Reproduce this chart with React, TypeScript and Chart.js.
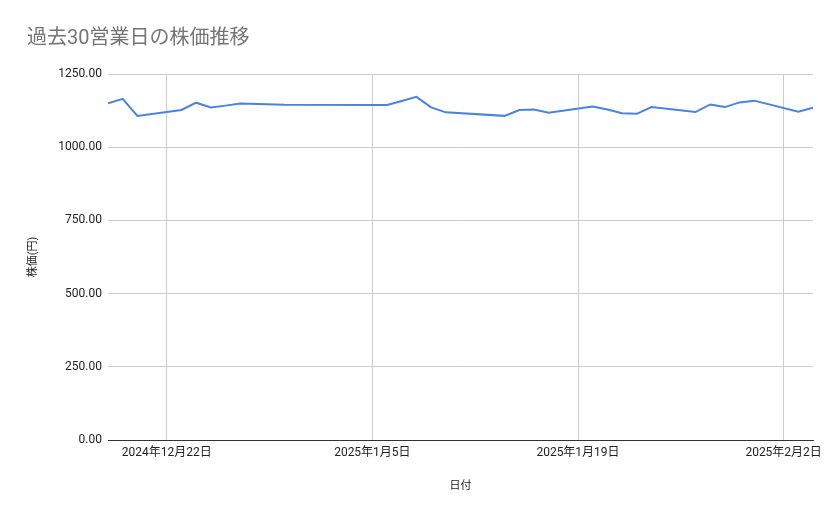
import { useEffect, useRef } from 'react';
import { Chart, registerables } from 'chart.js';

Chart.register(...registerables);

// trading days (last 30 business days)
const dates: string[] = [
  '2024-12-18', '2024-12-19', '2024-12-20', '2024-12-23', '2024-12-24',
  '2024-12-25', '2024-12-26', '2024-12-27', '2024-12-30', '2025-01-06',
  '2025-01-07', '2025-01-08', '2025-01-09', '2025-01-10', '2025-01-14',
  '2025-01-15', '2025-01-16', '2025-01-17', '2025-01-20', '2025-01-21',
  '2025-01-22', '2025-01-23', '2025-01-24', '2025-01-27', '2025-01-28',
  '2025-01-29', '2025-01-30', '2025-01-31', '2025-02-03', '2025-02-04',
];

const prices: number[] = [
  1150, 1165, 1107, 1127, 1152,
  1136, 1142, 1149, 1145, 1144,
  1158, 1172, 1136, 1119, 1107,
  1127, 1129, 1118, 1139, 1129,
  1116, 1114, 1137, 1120, 1146,
  1137, 1153, 1159, 1121, 1135,
];

const xTickDates: string[] = ['2024-12-22', '2025-01-05', '2025-01-19', '2025-02-02'];
const axisStart = '2024-12-18';
const axisEnd = '2025-02-04';

const yTicks: number[] = [0, 250, 500, 750, 1000, 1250];

const BASE = Date.UTC(2024, 11, 22);
const DAY = 86400000;

const toDay = (s: string) => {
  const [y, m, d] = s.split('-').map(Number);
  return (Date.UTC(y, m - 1, d) - BASE) / DAY;
};

const fromDay = (n: number) => {
  const dt = new Date(BASE + n * DAY);
  return `${dt.getUTCFullYear()}年${dt.getUTCMonth() + 1}月${dt.getUTCDate()}日`;
};

const FONT = 'Roboto, "Noto Sans CJK JP", sans-serif';

const App = () => {
  const canvasRef = useRef<HTMLCanvasElement>(null);

  useEffect(() => {
    if (!canvasRef.current) return;

    const chart = new Chart(canvasRef.current, {
      type: 'line',
      data: {
        datasets: [
          {
            label: '株価',
            data: dates.map((d, i) => ({ x: toDay(d), y: prices[i] })),
            borderColor: '#4a82e0',
            borderWidth: 2,
            pointRadius: 0,
            tension: 0,
            fill: false,
          },
        ],
      },
      options: {
        animation: false,
        responsive: true,
        maintainAspectRatio: false,
        layout: { padding: { left: 27, right: 26, top: 0, bottom: 0 } },
        plugins: {
          legend: { display: false },
          tooltip: { enabled: false },
          title: {
            display: true,
            text: '過去30営業日の株価推移',
            align: 'start',
            color: '#757575',
            font: { family: FONT, size: 20, weight: 'normal' },
            padding: { top: 26.5, bottom: 23.5 },
          },
        },
        scales: {
          x: {
            type: 'linear',
            min: toDay(axisStart),
            max: toDay(axisEnd),
            afterBuildTicks: (scale: any) => {
              scale.ticks = xTickDates.map((d) => ({ value: toDay(d) }));
            },
            afterFit: (scale: any) => {
              scale.height = 79;
            },
            grid: { color: '#cccccc', drawTicks: false },
            border: { display: true, color: '#333333', width: 1 },
            ticks: {
              padding: 6,
              color: '#222222',
              maxRotation: 0,
              autoSkip: false,
              font: { family: FONT, size: 12 },
              callback: (v: any) => fromDay(Number(v)),
            },
            title: {
              display: true,
              text: '日付',
              color: '#222222',
              font: { family: FONT, size: 11 },
              padding: { top: 0, bottom: 26.4 },
            },
          },
          y: {
            min: 0,
            max: 1250,
            afterBuildTicks: (scale: any) => {
              scale.ticks = yTicks.map((v) => ({ value: v }));
            },
            afterFit: (scale: any) => {
              scale.width = 81;
            },
            grid: { color: '#cccccc', drawTicks: false },
            border: { display: false },
            ticks: {
              padding: 6,
              color: '#222222',
              font: { family: FONT, size: 12 },
              callback: (v: any) => Number(v).toFixed(2),
            },
            title: {
              display: true,
              text: '株価(円)',
              color: '#222222',
              font: { family: FONT, size: 11 },
              padding: { top: 0, bottom: 0 },
            },
          },
        },
      },
    });

    return () => {
      chart.destroy();
    };
  }, []);

  return (
    <div style={{ position: 'absolute', left: 0, top: 0, width: 839, height: 519, background: '#fff' }}>
      <canvas ref={canvasRef}></canvas>
    </div>
  );
};

export default App;
